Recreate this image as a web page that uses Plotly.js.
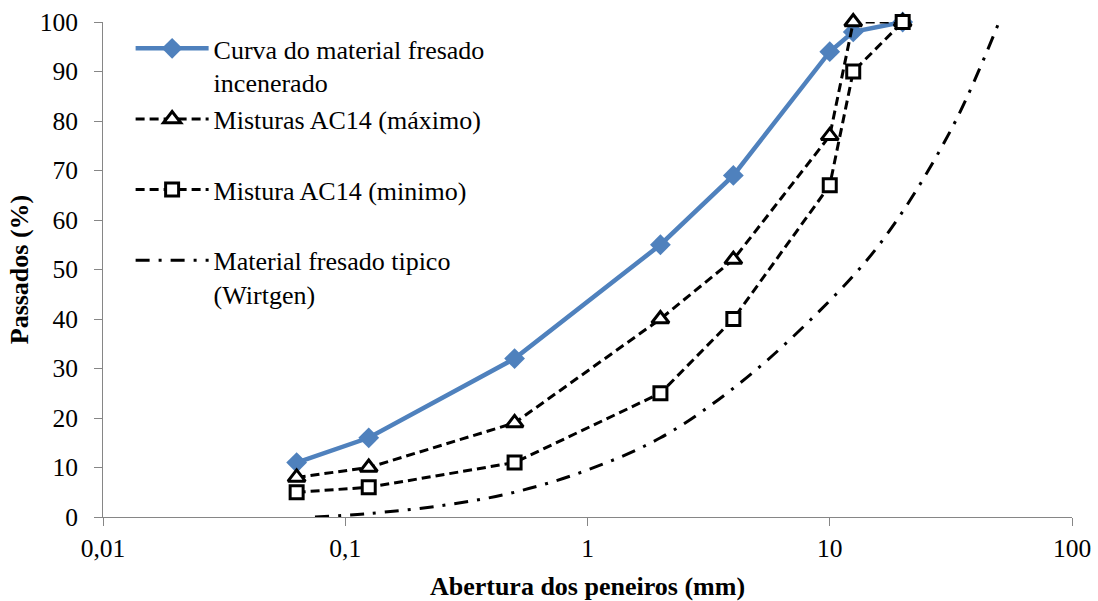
<!DOCTYPE html>
<html>
<head>
<meta charset="utf-8">
<script src="https://cdn.plot.ly/plotly-3.0.1.min.js"></script>
<style>html,body{margin:0;padding:0;background:#fff}</style>
</head>
<body>
<div id="chart" style="width:1098px;height:601px"></div>
<script>
// Sieve openings (mm) and percent passing for each grading curve
const sieveSizes = [0.063, 0.125, 0.5, 2, 4, 10, 12.5, 20];
const incineratedMilled = [11, 16, 32, 55, 69, 94, 98, 100];
const ac14Max = [8, 10, 19, 40, 52, 77, 100, 100];
const ac14Min = [5, 6, 11, 25, 40, 67, 90, 100];

// Typical milled material curve (Wirtgen)
const wirtgenSizes = [0.075, 0.125, 0.25, 0.5, 1, 2, 4, 8, 16, 31.5, 50];
const wirtgenPassing = [0, 0.7, 2.3, 5, 9.5, 16, 26, 39, 55, 78, 100];

const seriesNames = [
  'Curva do material fresado<br>incenerado',
  'Misturas AC14 (máximo)<br>\u00a0',
  'Mistura AC14 (minimo)<br>\u00a0',
  'Material fresado tipico<br>(Wirtgen)'
];

const xTickVals = [0.01, 0.1, 1, 10, 100];
const xTickText = ['0,01', '0,1', '1', '10', '100'];
const yTickVals = [0, 10, 20, 30, 40, 50, 60, 70, 80, 90, 100];

const serif = "'Liberation Serif', 'Times New Roman', serif";
const axisGrey = '#868686';

const traces = [
  {
    x: sieveSizes, y: incineratedMilled, name: seriesNames[0], legendgroup: 'g1',
    type: 'scatter', mode: 'lines+markers', cliponaxis: false,
    line: {color: '#4F81BD', width: 4.5},
    marker: {symbol: 'diamond', size: 16, color: '#4F81BD'}
  },
  {
    x: sieveSizes, y: ac14Max, name: seriesNames[1], legendgroup: 'g2',
    type: 'scatter', mode: 'lines+markers', cliponaxis: false,
    line: {color: '#000', width: 3, dash: '9px,5px'},
    marker: {symbol: 'triangle-up', size: 15, color: '#fff', line: {color: '#000', width: 3}}
  },
  {
    x: sieveSizes, y: ac14Min, name: seriesNames[2], legendgroup: 'g3',
    type: 'scatter', mode: 'lines+markers', cliponaxis: false,
    line: {color: '#000', width: 3, dash: '9px,5px'},
    marker: {symbol: 'square', size: 13, color: '#fff', line: {color: '#000', width: 3}}
  },
  {
    x: wirtgenSizes, y: wirtgenPassing, name: seriesNames[3], legendgroup: 'g4',
    type: 'scatter', mode: 'lines',
    line: {color: '#000', width: 3, dash: '14px,9px,3px,9px', shape: 'spline', smoothing: 1}
  }
];

const layout = {
  width: 1098, height: 601,
  margin: {l: 103, r: 26, t: 22, b: 84},
  paper_bgcolor: '#fff', plot_bgcolor: '#fff',
  font: {family: serif, size: 25.5, color: '#000'},
  showlegend: true,
  legend: {
    x: 0.0285, y: 0.994, xanchor: 'left', yanchor: 'top',
    bgcolor: 'rgba(0,0,0,0)', borderwidth: 0,
    font: {family: serif, size: 26, color: '#000'},
    itemwidth: 73, valign: 'top', tracegroupgap: 0
  },
  xaxis: {
    type: 'log', range: [-2, 2],
    tickvals: xTickVals, ticktext: xTickText,
    ticks: 'outside', ticklen: 8, tickcolor: axisGrey, tickwidth: 1,
    showline: true, linecolor: axisGrey, linewidth: 1,
    showgrid: false, zeroline: false,
    tickfont: {family: serif, size: 25.5},
    title: {text: 'Abertura dos peneiros (mm)', font: {family: serif, size: 26, weight: 700}, standoff: 16}
  },
  yaxis: {
    range: [0, 100], tickvals: yTickVals,
    ticks: 'outside', ticklen: 8, tickcolor: axisGrey, tickwidth: 1,
    ticklabelstandoff: 11,
    showline: true, linecolor: axisGrey, linewidth: 1,
    showgrid: false, zeroline: false,
    tickfont: {family: serif, size: 25.5},
    title: {text: 'Passados (%)', font: {family: serif, size: 26, weight: 700}, standoff: 3}
  },
  hovermode: false
};

Plotly.newPlot('chart', traces, layout, {displayModeBar: false, staticPlot: true});
</script>
</body>
</html>
